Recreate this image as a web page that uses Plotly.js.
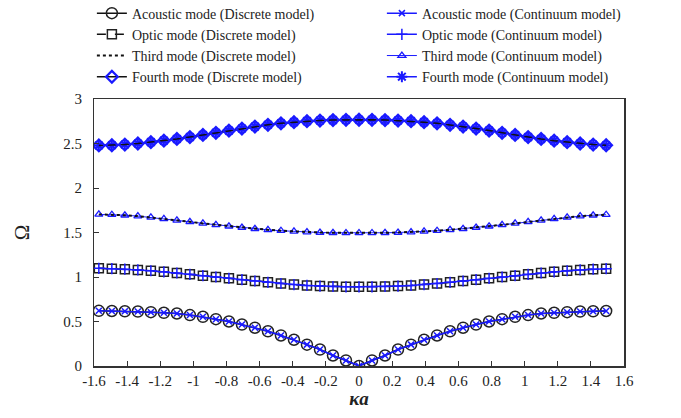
<!DOCTYPE html>
<html>
<head>
<meta charset="utf-8">
<script src="https://cdn.plot.ly/plotly-3.0.1.min.js"></script>
<style>html,body{margin:0;padding:0;background:#fff;}#chart{width:681px;height:418px;}</style>
</head>
<body>
<div id="chart"></div>
<script>
// wave number index k = -20..19, ka = k*pi/40
var kIndex = [-20,-19,-18,-17,-16,-15,-14,-13,-12,-11,-10,-9,-8,-7,-6,-5,-4,-3,-2,-1,0,1,2,3,4,5,6,7,8,9,10,11,12,13,14,15,16,17,18,19];
var ka = kIndex.map(function(k){ return k*Math.PI/40; });

var acoustic = [0.62,0.618,0.615,0.612,0.605,0.598,0.59,0.572,0.553,0.526,0.50,0.466,0.43,0.39,0.343,0.295,0.24,0.185,0.118,0.062,
                0.0,0.062,0.118,0.185,0.24,0.295,0.343,0.39,0.43,0.466,0.50,0.526,0.553,0.572,0.59,0.598,0.605,0.612,0.615,0.618];
var optic = [1.097,1.094,1.088,1.08,1.07,1.058,1.045,1.03,1.015,1.0,0.985,0.97,0.955,0.94,0.927,0.915,0.905,0.898,0.893,0.89,
             0.89,0.89,0.893,0.898,0.905,0.915,0.927,0.94,0.955,0.97,0.985,1.0,1.015,1.03,1.045,1.058,1.07,1.08,1.088,1.094];
var third = [1.703,1.70,1.694,1.684,1.67,1.654,1.637,1.62,1.602,1.586,1.57,1.556,1.542,1.53,1.52,1.512,1.505,1.50,1.497,1.495,
             1.495,1.495,1.497,1.50,1.505,1.512,1.52,1.53,1.542,1.556,1.57,1.586,1.602,1.62,1.637,1.654,1.67,1.684,1.694,1.70];
var fourth = [2.478,2.48,2.488,2.50,2.515,2.532,2.551,2.572,2.596,2.62,2.645,2.668,2.69,2.71,2.727,2.74,2.751,2.758,2.763,2.766,
              2.767,2.766,2.763,2.758,2.751,2.74,2.727,2.71,2.69,2.668,2.645,2.62,2.596,2.572,2.551,2.532,2.515,2.50,2.488,2.48];

var xTickVals = [-1.6,-1.4,-1.2,-1,-0.8,-0.6,-0.4,-0.2,0,0.2,0.4,0.6,0.8,1,1.2,1.4,1.6];
var xTickText = ["-1.6","-1.4","-1.2","-1","-0.8","-0.6","-0.4","-0.2","0","0.2","0.4","0.6","0.8","1","1.2","1.4","1.6"];
var yTickVals = [0,0.5,1,1.5,2,2.5,3];
var yTickText = ["0","0.5","1","1.5","2","2.5","3"];

var names = {
  aD:"Acoustic mode (Discrete model)", aC:"Acoustic mode (Continuum model)",
  oD:"Optic mode (Discrete model)", oC:"Optic mode (Continuum model)",
  tD:"Third mode (Discrete model)", tC:"Third mode (Continuum model)",
  fD:"Fourth mode (Discrete model)", fC:"Fourth mode (Continuum model)"
};
var BLUE = "#1a1aff";

var traces = [
  {x:ka, y:third, name:names.tC, legendrank:6, mode:"lines+markers",
   line:{color:BLUE,width:1}, marker:{symbol:"triangle-up-open",size:7,color:BLUE,line:{width:1.3}}},
  {x:ka, y:fourth, name:names.fC, legendrank:8, mode:"lines+markers",
   line:{color:BLUE,width:1.5}, marker:{symbol:"asterisk-open",size:9,color:BLUE,line:{width:2,color:BLUE}}},
  {x:ka, y:acoustic, name:names.aD, legendrank:1, mode:"lines+markers",
   line:{color:"#111",width:1.5}, marker:{symbol:"circle-open",size:11,color:"#222",line:{width:1.5}}},
  {x:ka, y:optic, name:names.oD, legendrank:3, mode:"lines+markers",
   line:{color:"#111",width:1.5,dash:"dash"}, marker:{symbol:"square-open",size:9,color:"#222",line:{width:1.5}}},
  {x:ka, y:third, name:names.tD, legendrank:5, mode:"lines",
   line:{color:"#111",width:2,dash:"dot"}},
  {x:ka, y:fourth, name:names.fD, legendrank:7, mode:"lines+markers",
   line:{color:"#111",width:1.5}, marker:{symbol:"diamond-open",size:9,color:BLUE,line:{width:2.2}}},
  {x:ka, y:acoustic, name:names.aC, legendrank:2, mode:"lines+markers",
   line:{color:BLUE,width:1.5}, marker:{symbol:"x-thin-open",size:6,color:BLUE,line:{width:1.5,color:BLUE}}},
  {x:ka, y:optic, name:names.oC, legendrank:4, mode:"lines+markers",
   line:{color:BLUE,width:1.5}, marker:{symbol:"cross-thin-open",size:8,color:BLUE,line:{width:1.5,color:BLUE}}}
];

var serif = "Liberation Serif, Times New Roman, serif";
var layout = {
  width:681, height:418,
  margin:{l:94, r:57, t:99, b:52, autoexpand:false},
  paper_bgcolor:"#fff", plot_bgcolor:"#fff",
  font:{family:serif, size:15, color:"#222"},
  showlegend:true,
  legend:{orientation:"h", x:-0.004, xanchor:"left", y:1.38, yanchor:"top",
          entrywidth:245, font:{family:serif,size:14,color:"#222"}, bgcolor:"rgba(0,0,0,0)"},
  xaxis:{range:[-1.6,1.6], tickvals:xTickVals, ticktext:xTickText, ticks:"inside", ticklen:5,
         tickcolor:"#333", showgrid:false, zeroline:false, showline:true, linecolor:"#333", linewidth:1.5,
         mirror:true, automargin:true, tickfont:{family:serif,size:15,color:"#222"},
         title:{text:"<b><i>κa</i></b>", font:{family:serif,size:19,color:"#222"}, standoff:0}},
  yaxis:{range:[0,3], tickvals:yTickVals, ticktext:yTickText.map(function(t){return t+"\u00a0\u00a0";}), ticks:"inside", ticklen:5,
         tickcolor:"#333", showgrid:false, zeroline:false, showline:true, linecolor:"#333", linewidth:1.5,
         mirror:true, automargin:true, tickfont:{family:serif,size:15,color:"#222"},
         title:{text:"Ω", font:{family:serif,size:21,color:"#222"}, standoff:28}}
};
Plotly.newPlot("chart", traces, layout, {displayModeBar:false, staticPlot:true});
</script>
</body>
</html>
